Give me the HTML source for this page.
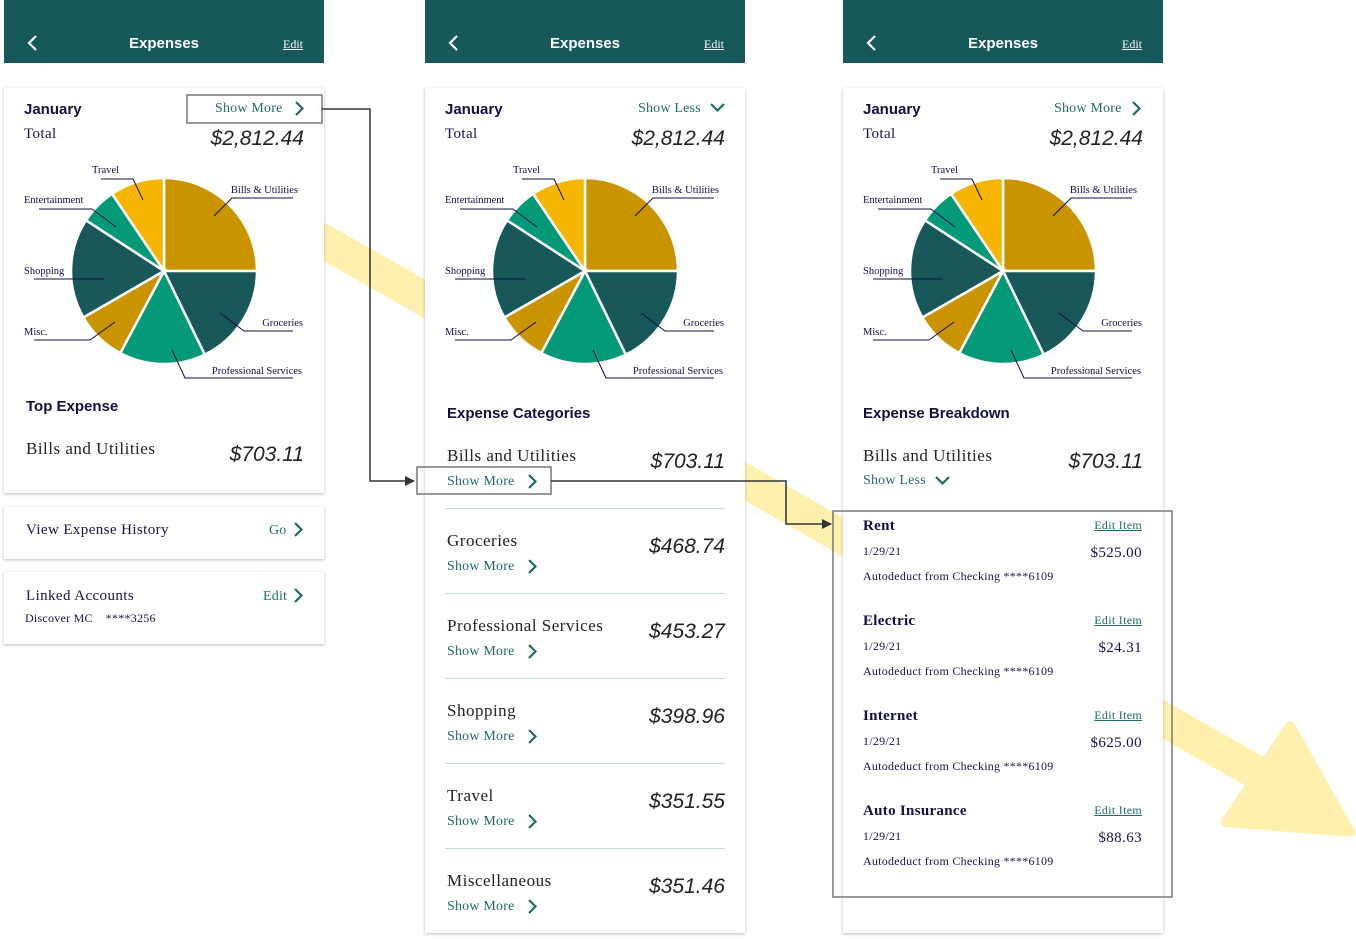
<!DOCTYPE html>
<html><head><meta charset="utf-8">
<style>
*{margin:0;padding:0;box-sizing:border-box}
body{width:1356px;height:939px;background:#fff;position:relative;overflow:hidden;font-family:"Liberation Serif",serif;color:#1a1446}
.t{position:absolute;white-space:nowrap;line-height:1}
.hd{position:absolute;top:0;width:320px;height:63px;background:#17585a}
.hd .ti{position:absolute;left:0;width:320px;top:35px;text-align:center;font:bold 15px "Liberation Sans",sans-serif;color:#fff}
.hd .ed{position:absolute;right:21px;top:37px;font-size:12px;color:#fff;text-decoration:underline}
.card{position:absolute;background:#fff;box-shadow:0 1px 3px rgba(60,60,90,.35)}
.b{font:bold 15px "Liberation Sans",sans-serif;color:#120f44}
.s15{font-size:15px;letter-spacing:.4px}
.amt{font:italic 21px "Liberation Sans",sans-serif;color:#222}
.lk{font-size:14px;color:#1f6b66;letter-spacing:.2px}
.sm{font-size:12px;letter-spacing:.25px}
.cat{font-size:17px;color:#222;letter-spacing:.5px}
.sep{position:absolute;height:1px;background:#c6d8d8;width:280px}
svg.abs{position:absolute;left:0;top:0}
</style></head><body>
<svg class="abs" width="1356" height="939">
<line x1="300" y1="228" x2="1275" y2="783" stroke="#fff0b0" stroke-width="34"/>
<polygon points="1226,822 1290,726 1350,832" fill="#fff0b0" stroke="#fff0b0" stroke-width="10" stroke-linejoin="round"/>
</svg>

<!-- Panel 1 -->
<div class="hd" style="left:4px">
<svg style="position:absolute;left:22px;top:35px" width="12" height="16"><polyline points="10,1 3,8 10,15" fill="none" stroke="#fff" stroke-width="2.2"/></svg>
<div class="ti">Expenses</div>
<div class="ed">Edit</div></div>
<div class="card" style="left:4px;top:88px;width:320px;height:405px"></div>
<div class="card" style="left:4px;top:507px;width:320px;height:52px"></div>
<div class="card" style="left:4px;top:572px;width:320px;height:72px"></div>

<div class="hd" style="left:425px">
<svg style="position:absolute;left:22px;top:35px" width="12" height="16"><polyline points="10,1 3,8 10,15" fill="none" stroke="#fff" stroke-width="2.2"/></svg>
<div class="ti">Expenses</div>
<div class="ed">Edit</div></div>
<div class="card" style="left:425px;top:88px;width:320px;height:845px"></div>

<div class="hd" style="left:843px">
<svg style="position:absolute;left:22px;top:35px" width="12" height="16"><polyline points="10,1 3,8 10,15" fill="none" stroke="#fff" stroke-width="2.2"/></svg>
<div class="ti">Expenses</div>
<div class="ed">Edit</div></div>
<div class="card" style="left:843px;top:88px;width:320px;height:845px"></div>

<svg class="abs" id="pies" width="1356" height="939"></svg>
<div id="txt"></div>

<!-- Panel 1 text -->
<div class="t b" style="left:24px;top:101px">January</div>
<div class="t s15" style="left:24px;top:127px">Total</div>
<div class="t amt" style="right:1052px;top:127px">$2,812.44</div>
<div class="t lk" style="left:215px;top:102px">Show More</div>
<div class="t b" style="left:26px;top:398px">Top Expense</div>
<div class="t cat" style="left:26px;top:440px">Bills and Utilities</div>
<div class="t amt" style="right:1052px;top:443px">$703.11</div>
<div class="t s15" style="left:26px;top:523px">View Expense History</div>
<div class="t lk" style="left:269px;top:524px">Go</div>
<div class="t s15" style="left:26px;top:589px">Linked Accounts</div>
<div class="t lk" style="left:263px;top:590px">Edit</div>
<div class="t sm" style="left:25px;top:612px">Discover MC &nbsp;&nbsp;&nbsp;****3256</div>

<!-- Panel 2 text -->
<div class="t b" style="left:445px;top:101px">January</div>
<div class="t s15" style="left:445px;top:127px">Total</div>
<div class="t amt" style="right:631px;top:127px">$2,812.44</div>
<div class="t lk" style="left:638px;top:102px">Show Less</div>
<div class="t b" style="left:447px;top:405px">Expense Categories</div>

<!-- Panel 3 text -->
<div class="t b" style="left:863px;top:101px">January</div>
<div class="t s15" style="left:863px;top:127px">Total</div>
<div class="t amt" style="right:213px;top:127px">$2,812.44</div>
<div class="t lk" style="left:1054px;top:102px">Show More</div>
<div class="t b" style="left:863px;top:405px">Expense Breakdown</div>
<div class="t cat" style="left:863px;top:447px">Bills and Utilities</div>
<div class="t amt" style="right:213px;top:450px">$703.11</div>
<div class="t lk" style="left:863px;top:474px">Show Less</div>

<svg class="abs" id="ov" width="1356" height="939">
<defs><marker id="ah" markerWidth="10" markerHeight="10" refX="9" refY="5" orient="auto" markerUnits="userSpaceOnUse"><polygon points="0,0 10,5 0,10" fill="#333"/></marker></defs>
<rect x="187" y="95" width="135" height="28" fill="none" stroke="#777" stroke-width="1.5"/>
<rect x="417" y="467" width="134" height="27" fill="none" stroke="#777" stroke-width="1.5"/>
<rect x="833" y="511" width="339" height="386" fill="none" stroke="#777" stroke-width="1.5"/>
<polyline points="322,109 370,109 370,481 414,481" fill="none" stroke="#333" stroke-width="1.5" marker-end="url(#ah)"/>
<polyline points="551,481 786,481 786,524 831,524" fill="none" stroke="#333" stroke-width="1.5" marker-end="url(#ah)"/>
</svg>

<script>
// Pie data (shares, in dollars-equivalent units)
const pieLabels = ["Bills & Utilities","Groceries","Professional Services","Misc.","Shopping","Entertainment","Travel"];
const pieValues = [703, 500, 422, 250, 492, 180, 265];
const pieColors = ["#c99400","#18585a","#049a78","#c99400","#18585a","#049a78","#f6b600"];
const pieCenters = [164, 585, 1003];
// Panel 2 categories
const catNames = ["Bills and Utilities","Groceries","Professional Services","Shopping","Travel","Miscellaneous"];
const catAmounts = ["$703.11","$468.74","$453.27","$398.96","$351.55","$351.46"];
// Panel 3 items
const itemNames = ["Rent","Electric","Internet","Auto Insurance"];
const itemDates = ["1/29/21","1/29/21","1/29/21","1/29/21"];
const itemAmounts = ["$525.00","$24.31","$625.00","$88.63"];

const NS="http://www.w3.org/2000/svg";
const pies=document.getElementById('pies');
const ov=document.getElementById('ov');
const txt=document.getElementById('txt');
function sv(tag,attrs,parent){const e=document.createElementNS(NS,tag);for(const k in attrs)e.setAttribute(k,attrs[k]);parent.appendChild(e);return e;}
function div(cls,style,text,parent){const e=document.createElement('div');e.className='t '+cls;e.style.cssText=style;e.textContent=text;parent.appendChild(e);return e;}
function chev(x,y,down){
  const p=sv('polyline',{points:down?`${x},${y} ${x+6.5},${y+6.5} ${x+13},${y}`:`${x},${y} ${x+6.5},${y+6.5} ${x},${y+13}`,fill:'none',stroke:'#1f6b66','stroke-width':2.2},ov);
  
  
}
const lab=[
 {tx:134,ty:-78,anc:'end',ln:[[129,-73],[68,-73],[50,-55]]},
 {tx:139,ty:55,anc:'end',ln:[[129,60],[80,60],[56,42]]},
 {tx:138,ty:103,anc:'end',ln:[[129,107],[21,107],[8,79]]},
 {tx:-140,ty:64,anc:'start',ln:[[-130,69],[-74,69],[-49,51]]},
 {tx:-140,ty:3,anc:'start',ln:[[-130,8],[-60,8]]},
 {tx:-140,ty:-68,anc:'start',ln:[[-125,-62],[-72,-62],[-48,-44]]},
 {tx:-72,ty:-98,anc:'start',ln:[[-63,-92],[-31,-92],[-21,-71]]}
];
const total=pieValues.reduce((a,b)=>a+b,0);
const R=93, cy=271;
pieCenters.forEach(cx=>{
  let a=-Math.PI/2;
  pieValues.forEach((v,i)=>{
    const da=v/total*2*Math.PI, a2=a+da;
    const x1=cx+R*Math.cos(a),y1=cy+R*Math.sin(a),x2=cx+R*Math.cos(a2),y2=cy+R*Math.sin(a2);
    const p=sv('path',{d:`M${cx},${cy}L${x1},${y1}A${R},${R} 0 ${da>Math.PI?1:0} 1 ${x2},${y2}Z`,fill:pieColors[i],stroke:'#fff','stroke-width':2.5},pies);
    
    
    a=a2;
  });
  lab.forEach((L,i)=>{
    const pl=sv('polyline',{points:L.ln.map(q=>`${cx+q[0]},${cy+q[1]}`).join(' '),fill:'none',stroke:'#120f44','stroke-width':1},pies);
    
    
    const t=sv('text',{x:cx+L.tx,y:cy+L.ty,'text-anchor':L.anc,'font-family':'Liberation Serif, serif','font-size':10.5,fill:'#120f44'},pies);
    t.textContent=pieLabels[i];
    
    
  });
});
chev(296,102,false); chev(295,523,false); chev(295,589,false);
chev(711,104,true); chev(1133,102,false); chev(936,477,true);
catNames.forEach((n,i)=>{
  const y=447+i*85;
  const a=div('cat',`left:447px;top:${y}px`,n,txt);
  
  
  const b=div('amt',`right:631px;top:${y+3}px`,catAmounts[i],txt);
  
  
  const c=div('lk',`left:447px;top:${y+28}px`,'Show More',txt);
  
  
  chev(529,y+28,false);
  if(i<5){const s=document.createElement('div');s.className='sep';s.style.cssText=`left:445px;top:${y+61}px`;txt.appendChild(s);
    
    }
});
itemNames.forEach((n,i)=>{
  const y=518+i*95;
  const a=div('b',`left:863px;top:${y}px;font:bold 15px 'Liberation Serif',serif;letter-spacing:.3px`,n,txt);
  
  
  const e=div('lk',`right:214px;top:${y+1}px;font-size:12px;letter-spacing:.3px;text-decoration:underline`,'Edit Item',txt);
  
  
  const d=div('sm',`left:863px;top:${y+27}px`,itemDates[i],txt);
  
  
  const m=div('s15',`right:214px;top:${y+28}px`,itemAmounts[i],txt);
  
  
  const s=div('sm',`left:863px;top:${y+52}px`,'Autodeduct from Checking ****6109',txt);
  
  
});
</script>
</body></html>
